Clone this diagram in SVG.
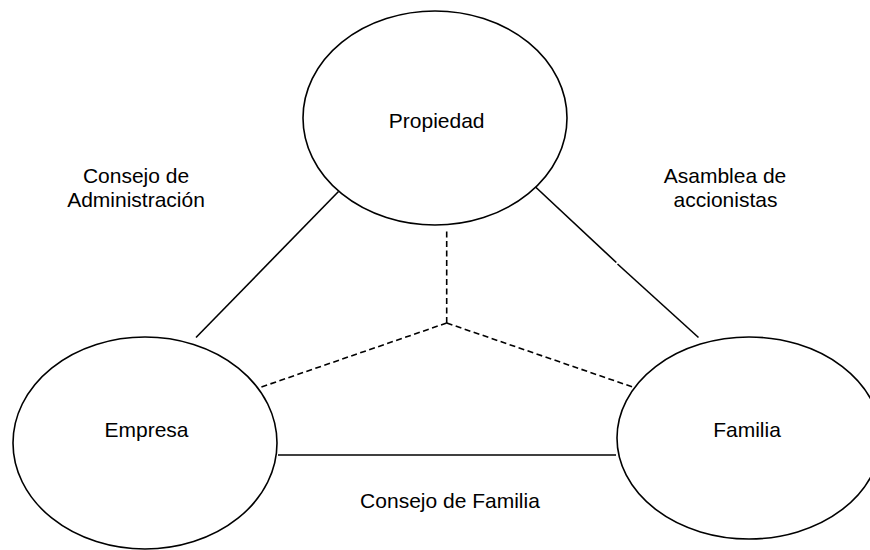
<svg xmlns="http://www.w3.org/2000/svg" width="870" height="550" viewBox="0 0 870 550">
<style>
.node ellipse{fill:#ffffff;stroke:#000000;stroke-width:1.6}
.lbl{font-family:"Liberation Sans",Arial,sans-serif;font-size:21px;fill:#000000;text-anchor:middle}
.solid{stroke:#000000;stroke-width:1.6;fill:none}
.dash{stroke:#000000;stroke-width:1.6;fill:none;stroke-dasharray:6 3.5}
</style>
<rect width="870" height="550" fill="#ffffff"/>
<g id="connectors">
<line class="solid" x1="196" y1="337.5" x2="338.5" y2="191.5"/>
<line class="solid" x1="535" y1="186.5" x2="616.3" y2="262.5"/>
<line class="solid" x1="617.5" y1="264" x2="698.5" y2="337.5"/>
<line class="solid" x1="278" y1="455" x2="616" y2="455"/>
<polyline class="dash" points="446.7,231.5 446.7,323"/>
<line class="dash" x1="446.7" y1="323" x2="257" y2="388.5"/>
<line class="dash" x1="446.7" y1="323" x2="637" y2="388.5"/>
</g>
<g id="node-propiedad" class="node">
<ellipse cx="435" cy="118" rx="132" ry="107"/>
<text class="lbl" x="436.7" y="128.3">Propiedad</text>
</g>
<g id="node-empresa" class="node">
<ellipse cx="145" cy="443" rx="132" ry="106"/>
<text class="lbl" x="146.5" y="437.3">Empresa</text>
</g>
<g id="node-familia" class="node">
<ellipse cx="749" cy="438" rx="132" ry="101"/>
<text class="lbl" x="747" y="437.3">Familia</text>
</g>
<g id="labels">
<text class="lbl" x="136" y="183.3">Consejo de</text>
<text class="lbl" x="136" y="206.7">Administración</text>
<text class="lbl" x="725" y="183.3">Asamblea de</text>
<text class="lbl" x="725.5" y="206.7">accionistas</text>
<text class="lbl" x="450" y="508.3">Consejo de Familia</text>
</g>
</svg>
